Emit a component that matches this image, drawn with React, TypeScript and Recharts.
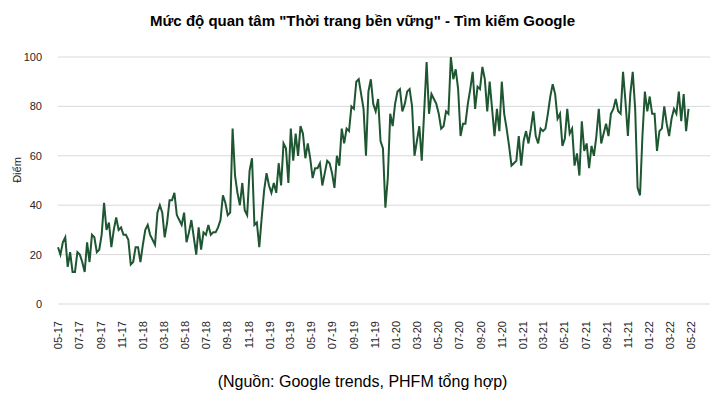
import { LineChart, Line, XAxis, YAxis, CartesianGrid } from "recharts";

// weekly Google Trends index, one array per year (weeks start on Sunday)
const weeks2017 = [23, 20, 25, 27, 15, 21, 13, 13, 21, 20, 17, 13, 25, 17, 28, 27, 21, 22, 28, 41, 30, 33, 23, 30, 35, 30, 31, 28, 28, 26, 16, 17, 23, 23, 17, 24];
const weeks2018 = [30, 32, 28, 26, 24, 37, 40, 37, 27, 33, 42, 42, 45, 36, 34, 32, 37, 25, 29, 34, 27, 20, 31, 22, 29, 28, 32, 28, 29, 29, 31, 34, 44, 41, 36, 37, 71, 52, 45, 40, 49, 38, 36, 54, 59, 32, 33, 23, 35, 46, 53, 48];
const weeks2019 = [45, 49, 45, 57, 48, 65, 63, 49, 71, 58, 69, 60, 72, 69, 59, 65, 59, 51, 55, 55, 57, 48, 53, 58, 57, 53, 47, 60, 56, 71, 65, 71, 70, 80, 79, 90, 91, 85, 79, 60, 86, 91, 81, 78, 83, 66, 63, 39, 51, 77, 72, 81];
const weeks2020 = [86, 87, 78, 81, 86, 87, 80, 60, 66, 72, 58, 78, 98, 77, 85, 83, 81, 77, 71, 72, 78, 77, 100, 91, 95, 87, 68, 73, 73, 81, 87, 94, 79, 88, 87, 96, 91, 78, 90, 79, 68, 79, 70, 90, 77, 71, 64, 56, 57, 58, 68, 56];
const weeks2021 = [66, 70, 65, 71, 78, 68, 65, 71, 70, 71, 77, 84, 89, 85, 75, 77, 64, 67, 79, 69, 71, 56, 61, 52, 74, 62, 65, 55, 64, 60, 68, 79, 65, 69, 73, 68, 77, 79, 83, 78, 77, 94, 82, 68, 85, 94, 79, 47, 44, 68, 86, 78];
const weeks2022 = [84, 77, 77, 62, 70, 71, 80, 73, 68, 75, 79, 77, 86, 74, 85, 70, 79];

const monthLabels = ["05-17", "07-17", "09-17", "11-17", "01-18", "03-18", "05-18", "07-18", "09-18", "11-18", "01-19", "03-19", "05-19", "07-19", "09-19", "11-19", "01-20", "03-20", "05-20", "07-20", "09-20", "11-20", "01-21", "03-21", "05-21", "07-21", "09-21", "11-21", "01-22", "03-22", "05-22"];
const yTicks = [0, 20, 40, 60, 80, 100];

const FIRST_WEEK = Date.UTC(2017, 3, 30);
const AXIS_END = Date.UTC(2022, 5, 25);
const DAY = 86400000;

const values = [...weeks2017, ...weeks2018, ...weeks2019, ...weeks2020, ...weeks2021, ...weeks2022];
const chartData = values.map((v, i) => ({ day: i * 7, score: v }));

// label "MM-YY" -> days since first week
const labelDay = (label: string) => {
  const [m, y] = label.split("-").map(Number);
  return (Date.UTC(2000 + y, m - 1, 1) - FIRST_WEEK) / DAY;
};
const tickDays = monthLabels.map(labelDay);
const labelByDay = new Map(monthLabels.map((l) => [labelDay(l), l]));

const FONT = "'Liberation Sans', Arial, sans-serif";
const TEXT = "#262626";

function MonthTick(props: any) {
  const { x, y, payload } = props;
  return (
    <text
      x={x}
      y={y + 9}
      transform={`rotate(-90 ${x} ${y + 9})`}
      textAnchor="end"
      dominantBaseline="central"
      fill={TEXT}
      fontSize={11}
      fontFamily={FONT}
    >
      {labelByDay.get(payload.value)}
    </text>
  );
}

export default function App() {
  return (
    <div style={{ position: "absolute", left: 0, top: 0, width: 725, height: 398, background: "#fff", fontFamily: FONT }}>
      <div
        style={{
          position: "absolute",
          top: 12,
          left: 0,
          width: 725,
          textAlign: "center",
          fontSize: 15,
          fontWeight: "bold",
          color: "#000",
        }}
      >
        Mức độ quan tâm "Thời trang bền vững" - Tìm kiếm Google
      </div>
      <div
        style={{
          position: "absolute",
          left: 17,
          top: 170,
          transform: "translate(-50%, -50%) rotate(-90deg)",
          fontSize: 11,
          color: TEXT,
          whiteSpace: "nowrap",
        }}
      >
        Điểm
      </div>
      <LineChart
        width={725}
        height={398}
        data={chartData}
        margin={{ top: 57, right: 15, bottom: 44, left: 0 }}
      >
        <CartesianGrid vertical={false} stroke="#d9d9d9" />
        <XAxis
          dataKey="day"
          type="number"
          domain={[0, (AXIS_END - FIRST_WEEK) / DAY]}
          ticks={tickDays}
          interval={0}
          tick={<MonthTick />}
          tickLine={false}
          axisLine={false}
          height={50}
        />
        <YAxis
          domain={[0, 100]}
          ticks={yTicks}
          width={58}
          tickLine={false}
          axisLine={false}
          tick={{ fill: TEXT, fontSize: 11, fontFamily: FONT }}
          tickMargin={10}
        />
        <Line
          type="linear"
          dataKey="score"
          stroke="#1e5631"
          strokeWidth={2}
          dot={false}
          isAnimationActive={false}
        />
      </LineChart>
      <div
        style={{
          position: "absolute",
          top: 373,
          left: 0,
          width: 725,
          textAlign: "center",
          fontSize: 16,
          color: "#000",
        }}
      >
        (Nguồn: Google trends, PHFM tổng hợp)
      </div>
    </div>
  );
}
